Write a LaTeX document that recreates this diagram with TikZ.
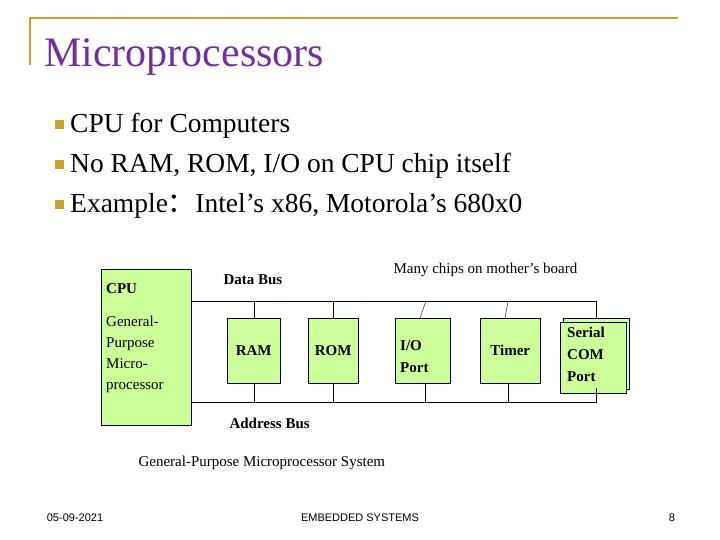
\documentclass[tikz,border=0pt]{standalone}
\usepackage{fontspec}
\setmainfont{Liberation Serif}
\setsansfont{Liberation Sans}
\newfontfamily\cjk{Noto Sans CJK SC}
\definecolor{gold}{RGB}{201,162,39}
\definecolor{titlepurple}{RGB}{112,48,160}
\definecolor{chipgreen}{RGB}{204,255,153}
\begin{document}
\begin{tikzpicture}[x=1pt,y=-1pt,>=latex]
\tikzset{
	chip/.style={draw,fill=chipgreen,font=\fontsize{15}{17}\selectfont\bfseries,align=left,inner sep=0pt},
	bullet/.style={fill=gold,minimum size=9pt,inner sep=0pt},
	point/.style={anchor=base west,font=\fontsize{27.5}{30}\selectfont},
	label/.style={anchor=base west,font=\fontsize{15}{17}\selectfont},
	foot/.style={anchor=base,font=\sffamily\fontsize{11}{13}\selectfont}
}
\useasboundingbox (0,0) rectangle (720,540);
\draw[gold,line width=2.5pt] (30,65) -- (30,18) -- (678,18);
\node(title)[anchor=base west,text=titlepurple,font=\fontsize{42}{46}\selectfont,inner sep=0pt] at (44,67) {Microprocessors};
\foreach \y/\txt [count=\i] in {133/CPU for Computers,173/{No RAM, ROM, I/O on CPU chip itself},213/{Example{\cjk ：}Intel’s x86, Motorola’s 680x0}}{
	\node(b\i)[bullet] at (59,\y-8) {};
	\node(p\i)[point,inner sep=0pt] at (70,\y) {\txt};
}
% chips
\node(cpu)[chip,minimum width=90pt,minimum height=156pt,anchor=north west] at (101,269) {};
\node(cputxt)[anchor=north west,font=\fontsize{15}{21}\selectfont,align=left,inner sep=0pt] at (106,283)
	{\textbf{CPU}\\[12pt]General-\\Purpose\\Micro-\\processor};
\node(ram)[chip,minimum width=53pt,minimum height=65pt,anchor=north west] at (227,318) {RAM};
\node(rom)[chip,minimum width=50pt,minimum height=65pt,anchor=north west] at (308,318) {ROM};
\node(io)[chip,minimum width=55pt,minimum height=65pt,anchor=north west] at (395,318) {};
\node[anchor=base west,font=\fontsize{15}{17}\selectfont\bfseries,inner sep=0pt] at (400,350) {I/O};
\node[anchor=base west,font=\fontsize{15}{17}\selectfont\bfseries,inner sep=0pt] at (400,372) {Port};
\node(timer)[chip,minimum width=60pt,minimum height=65pt,anchor=north west] at (480,318) {Timer};
\node(shadow)[draw,fill=chipgreen,minimum width=66pt,minimum height=71pt,anchor=north west,inner sep=0pt] at (563,318) {};
\node(serial)[draw,fill=chipgreen,minimum width=66pt,minimum height=71pt,anchor=north west,inner sep=0pt] at (560,322) {};
\node[anchor=north west,font=\fontsize{15}{22}\selectfont\bfseries,align=left,inner sep=0pt] at (567,327) {Serial\\COM\\Port};
% buses
\coordinate(dstart) at (191,301);
\coordinate(dend) at (596,301);
\coordinate(astart) at (191,402);
\coordinate(aend) at (596,402);
\draw (dstart) -- (dend) -- (shadow.north -| dend);
\draw (astart) -- (aend) -- ++(0,-14);
\draw (ram.north) -- (ram.north |- dstart);
\draw (rom.north) -- (rom.north |- dstart);
\draw (420,318) -- (426,301);
\draw (505,318) -- (508,301);
\foreach \c in {ram,rom}
	\draw (\c.south) -- (\c.south |- astart);
\draw (425,383) -- (425,402);
\draw (508,383) -- (508,402);
% labels
\node(dbus)[label,font=\fontsize{15}{17}\selectfont\bfseries] at (220,284) {Data Bus};
\node(abus)[label,font=\fontsize{15}{17}\selectfont\bfseries] at (226,428) {Address Bus};
\node(many)[label] at (390,273) {Many chips on mother’s board};
\node(sys)[label] at (135,466) {General-Purpose Microprocessor System};
% footer
\node(date)[foot] at (75,521) {05-09-2021};
\node(emb)[foot] at (360,521) {EMBEDDED SYSTEMS};
\node(page)[foot] at (672,521) {8};
\end{tikzpicture}
\end{document}
